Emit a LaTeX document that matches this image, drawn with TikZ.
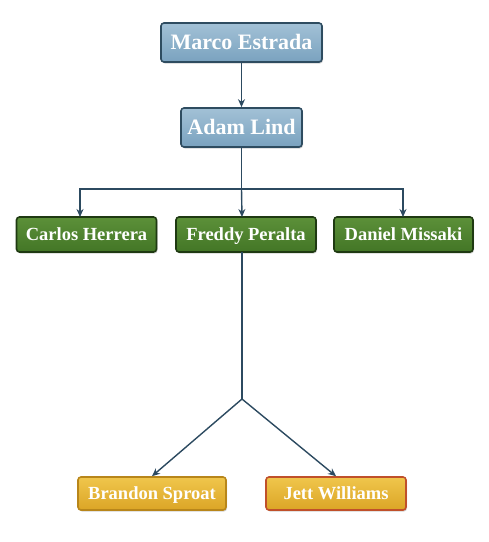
\documentclass[tikz,border=0pt]{standalone}
\usepackage{fontspec}
\setmainfont{Liberation Serif}
\usetikzlibrary{arrows.meta,shadows}
\definecolor{bluefill}{HTML}{7AA2BF}
\definecolor{bluetop}{HTML}{A2C1D6}
\definecolor{blueedge}{HTML}{2E4C60}
\definecolor{greenfill}{HTML}{437626}
\definecolor{greentop}{HTML}{5C9039}
\definecolor{greenedge}{HTML}{1F3A12}
\definecolor{goldfill}{HTML}{DBA526}
\definecolor{goldtop}{HTML}{F0C64C}
\definecolor{goldedge}{HTML}{B8861A}
\definecolor{rededge}{HTML}{C0502A}
\definecolor{linkc}{HTML}{2C4A60}
\tikzset{
  x=1pt,y=-1pt,
  person/.style={draw, line width=1.6pt, rounded corners=3pt, text=white,
    font=\bfseries\fontsize{18.5}{18.5}\selectfont, inner sep=0pt,
    text height=15.2pt, text depth=3pt,
    drop shadow={shadow xshift=1pt,shadow yshift=-1.5pt,opacity=0.35}},
  bigperson/.style={person, font=\bfseries\fontsize{22}{22}\selectfont,
    text height=17.5pt, text depth=3pt},
  bluebox/.style={bigperson, draw=blueedge, top color=bluetop, bottom color=bluefill},
  greenbox/.style={person, draw=greenedge, top color=greentop, bottom color=greenfill},
  goldbox/.style={person, draw=goldedge, top color=goldtop, bottom color=goldfill},
  link/.style={draw=linkc, line width=1.4pt, -{Stealth[length=8pt,width=7pt]}},
  plain/.style={draw=linkc, line width=1.4pt}
}
\begin{document}
\begin{tikzpicture}
\useasboundingbox (0,0) rectangle (489,542);
\node[bluebox, minimum width=161pt, minimum height=39pt] (marco) at (241.5,42.5) {Marco Estrada};
\node[bluebox, minimum width=121pt, minimum height=39pt] (adam) at (241.5,127.5) {Adam Lind};
\node[greenbox, minimum width=140pt, minimum height=35pt] (carlos) at (86.5,234.5) {Carlos Herrera};
\node[greenbox, minimum width=140pt, minimum height=35pt] (freddy) at (246,234.5) {Freddy Peralta};
\node[greenbox, minimum width=139pt, minimum height=35pt] (daniel) at (403.5,234.5) {Daniel Missaki};
\node[goldbox, minimum width=148pt, minimum height=33pt] (brandon) at (152,493.5) {Brandon Sproat};
\node[goldbox, draw=rededge, minimum width=140pt, minimum height=33pt] (jett) at (336,493.5) {Jett Williams};
\coordinate (hub) at (241.5,189);
\coordinate (fork) at (242,399);
\draw[link] (marco) -- (adam);
\draw[plain] (adam.south) -- (hub);
\draw[link] (hub) -| (80,217);
\draw[link] (hub) -- (242,217);
\draw[link] (hub) -| (403,217);
\draw[plain] (242,252) -- (fork);
\draw[link] (fork) -- (brandon.north);
\draw[link] (fork) -- (jett.north);
\end{tikzpicture}
\end{document}
